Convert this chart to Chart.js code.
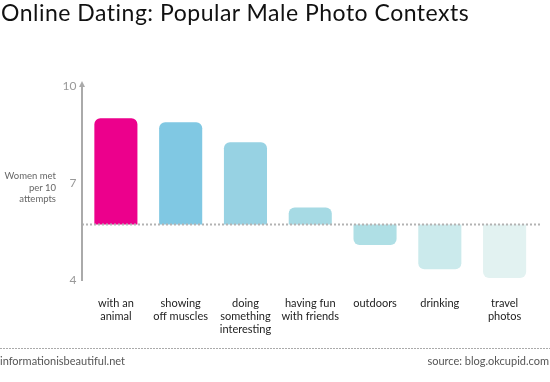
<!DOCTYPE html>
<html>
<head>
<meta charset="utf-8">
<script src="https://cdn.jsdelivr.net/npm/chart.js@4.4.1/dist/chart.umd.min.js"></script>
<style>
  html, body { margin: 0; padding: 0; background: #fff; }
  #wrap { position: relative; width: 550px; height: 382px; overflow: hidden; font-family: Lato, "Noto Sans", sans-serif; }
  #c { position: absolute; left: 0; top: 0; }
  #title { position: absolute; left: 1px; top: -2px; font-size: 23px; color: #111; white-space: nowrap; letter-spacing: 0.5px; }
  #ytitle { position: absolute; right: 494px; top: 170px; font-size: 9.5px; line-height: 11.5px; color: #666; text-align: right; white-space: nowrap; }
  #foot-l { position: absolute; left: 0; top: 354px; font-size: 11px; color: #555; }
  #foot-r { position: absolute; right: 1px; top: 354px; font-size: 11px; color: #555; }
</style>
</head>
<body>
<div id="wrap">
  <canvas id="c" width="550" height="382"></canvas>
  <div id="title">Online Dating: Popular Male Photo Contexts</div>
  <div id="ytitle">Women met<br>per 10<br>attempts</div>
  <div id="foot-l">informationisbeautiful.net</div>
  <div id="foot-r">source: blog.okcupid.com</div>
</div>
<script>
const categories = [
  ["with an", "animal"],
  ["showing", "off muscles"],
  ["doing", "something", "interesting"],
  ["having fun", "with friends"],
  ["outdoors"],
  ["drinking"],
  ["travel", "photos"]
];
const values = [9.0, 8.88, 8.26, 6.24, 5.08, 4.33, 4.06];
const baseline = 5.72;
const yTicks = [4, 7, 10];
const barColors = ["#EC008C", "#80C8E3", "#97D2E3", "#A6DAE4", "#AFDFE5", "#CBEAEC", "#E2F2F1"];

const decor = {
  id: 'decor',
  afterDatasetsDraw(chart) {
    const {ctx, chartArea, scales} = chart;
    const yb = Math.round(scales.y.getPixelForValue(baseline)) + 0.5;
    const ax = chartArea.left - 1.5;
    ctx.save();
    ctx.strokeStyle = '#b3b3b3';
    ctx.lineWidth = 2;
    ctx.setLineDash([2, 2]);
    ctx.beginPath();
    ctx.moveTo(ax, yb);
    ctx.lineTo(540, yb);
    ctx.stroke();
    ctx.setLineDash([]);
    ctx.strokeStyle = '#aaaaaa';
    ctx.lineWidth = 2;
    ctx.beginPath();
    ctx.moveTo(ax, scales.y.getPixelForValue(yTicks[0]) + 1);
    ctx.lineTo(ax, chartArea.top - 1);
    ctx.stroke();
    ctx.fillStyle = '#aaaaaa';
    ctx.beginPath();
    ctx.moveTo(ax, chartArea.top - 5);
    ctx.lineTo(ax - 3, chartArea.top + 1);
    ctx.lineTo(ax + 3, chartArea.top + 1);
    ctx.closePath();
    ctx.fill();
    ctx.strokeStyle = '#aaaaaa';
    ctx.lineWidth = 1;
    ctx.setLineDash([2, 1]);
    ctx.beginPath();
    ctx.moveTo(0, 348.5);
    ctx.lineTo(550, 348.5);
    ctx.stroke();
    ctx.restore();
  }
};

new Chart(document.getElementById('c'), {
  type: 'bar',
  data: {
    labels: categories,
    datasets: [{
      data: values,
      base: baseline,
      backgroundColor: barColors,
      borderRadius: 6,
      borderSkipped: 'start',
      categoryPercentage: 1,
      barPercentage: 0.665
    }]
  },
  options: {
    responsive: false,
    devicePixelRatio: 1,
    animation: false,
    layout: { padding: { top: 86, right: 13, bottom: 0, left: 0 } },
    plugins: { legend: { display: false }, tooltip: { enabled: false }, title: { display: false } },
    scales: {
      x: {
        type: 'category',
        offset: true,
        grid: { display: false, drawTicks: false },
        border: { display: false },
        ticks: {
          color: '#222',
          font: { family: 'Lato, "Noto Sans", sans-serif', size: 11, lineHeight: 1.18 },
          padding: 17,
          maxRotation: 0,
          autoSkip: false
        },
        afterFit(s) { s.height = 102; }
      },
      y: {
        min: 4,
        max: 10,
        grid: { display: false, drawTicks: false },
        border: { display: false },
        afterBuildTicks(s) { s.ticks = yTicks.map(v => ({ value: v })); },
        ticks: {
          color: '#999',
          font: { family: 'Lato, "Noto Sans", sans-serif', size: 12 },
          padding: 7
        },
        afterFit(s) { s.width = 83.5; }
      }
    }
  },
  plugins: [decor]
});
</script>
</body>
</html>
